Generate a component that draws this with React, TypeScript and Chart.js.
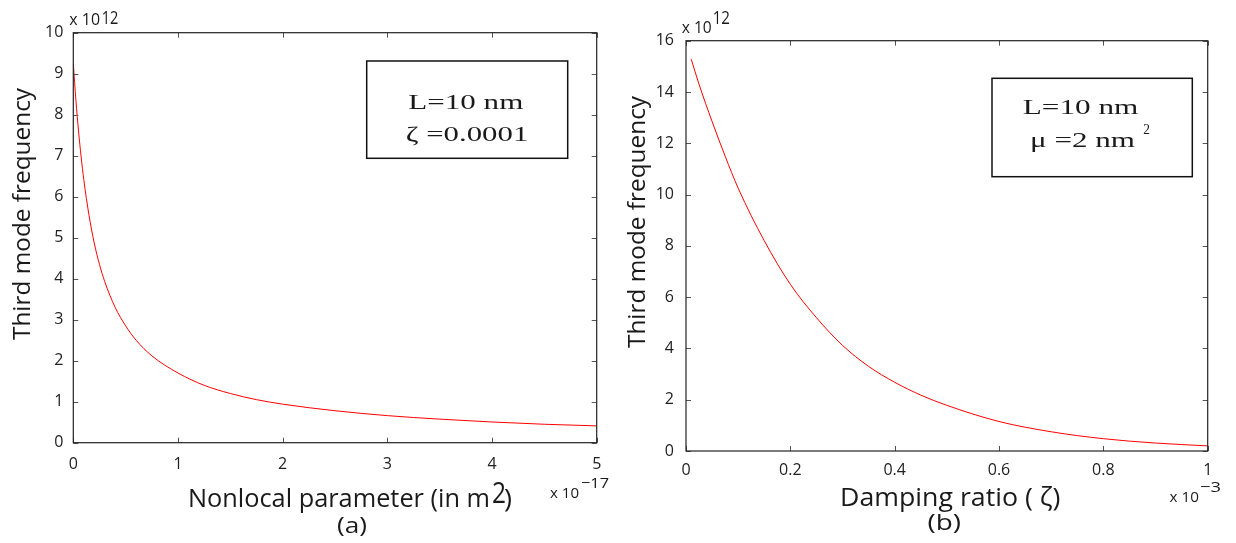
import React, { useEffect, useRef } from "react";
import { Chart, registerables } from "chart.js";
Chart.register(...registerables);

// ---- data ----
// panel (a): nonlocal parameter (x 1e-17 m^2) vs third mode frequency (x 1e12)
const nonlocalParam = [0, 0.025, 0.05, 0.075, 0.1, 0.15, 0.2, 0.25, 0.3, 0.4, 0.5, 0.6, 0.75, 1.0, 1.25, 1.5, 1.75, 2.0, 2.5, 3.0, 3.5, 4.0, 4.5, 5.0];
const freqVsNonlocal = [9.25, 8.35, 7.6, 6.97, 6.42, 5.55, 4.87, 4.35, 3.93, 3.3, 2.85, 2.5, 2.12, 1.7, 1.4, 1.2, 1.05, 0.94, 0.78, 0.66, 0.575, 0.505, 0.45, 0.41];
// panel (b): damping ratio (x 1e-3) vs third mode frequency (x 1e12)
const dampingRatio = [0.01, 0.025, 0.05, 0.075, 0.1, 0.15, 0.2, 0.25, 0.3, 0.35, 0.4, 0.45, 0.5, 0.6, 0.7, 0.8, 0.9, 1.0];
const freqVsDamping = [15.28, 14.3, 12.85, 11.5, 10.25, 8.2, 6.5, 5.2, 4.12, 3.3, 2.68, 2.18, 1.78, 1.15, 0.75, 0.48, 0.31, 0.2];

const xTickLabelsA = ["0", "1", "2", "3", "4", "5"];
const yTickLabelsA = ["0", "1", "2", "3", "4", "5", "6", "7", "8", "9", "10"];
const xTickLabelsB = ["0", "0.2", "0.4", "0.6", "0.8", "1"];
const yTickLabelsB = ["0", "2", "4", "6", "8", "10", "12", "14", "16"];

const yTitle = "Third mode frequency";
const xTitleA = "Nonlocal parameter (in m";
const xTitleB = "Damping ratio ( \u03b6)";

const SANS = "'Open Sans'";
const SERIF = "'Liberation Serif'";

type TextItem = { t: string; x: number; y: number; w: number; font: string; rot?: boolean };

function fitText(ctx: CanvasRenderingContext2D, it: TextItem) {
  ctx.save();
  ctx.font = it.font;
  const m = ctx.measureText(it.t).width || 1;
  const s = it.w / m;
  ctx.translate(it.x, it.y);
  if (it.rot) ctx.rotate(-Math.PI / 2);
  ctx.scale(s, 1);
  ctx.textAlign = "left";
  ctx.textBaseline = "alphabetic";
  ctx.fillStyle = "#1a1a1a";
  ctx.fillText(it.t, 0, 0);
  ctx.restore();
}

type Box = { x: number; y: number; w: number; h: number };

function decorPlugin(offset: number, texts: TextItem[], box: Box) {
  return {
    id: "decor" + offset,
    afterDraw(chart: any) {
      const ctx: CanvasRenderingContext2D = chart.ctx;
      const a = chart.chartArea;
      const xs = chart.scales.x;
      const ys = chart.scales.y;
      ctx.save();
      ctx.strokeStyle = "#555";
      ctx.lineWidth = 1;
      ctx.beginPath();
      xs.ticks.forEach((t: any) => {
        const p = Math.round(xs.getPixelForValue(t.value)) + 0.5;
        ctx.moveTo(p, a.bottom);
        ctx.lineTo(p, a.bottom - 5);
        ctx.moveTo(p, a.top);
        ctx.lineTo(p, a.top + 5);
      });
      ys.ticks.forEach((t: any) => {
        const p = Math.round(ys.getPixelForValue(t.value)) + 0.5;
        ctx.moveTo(a.left, p);
        ctx.lineTo(a.left + 5, p);
        ctx.moveTo(a.right, p);
        ctx.lineTo(a.right - 5, p);
      });
      ctx.stroke();
      ctx.strokeStyle = "#222";
      ctx.lineWidth = 1.2;
      ctx.strokeRect(a.left, a.top, a.right - a.left, a.bottom - a.top);
      ctx.translate(-offset, 0);
      ctx.lineWidth = 1.5;
      ctx.strokeStyle = "#111";
      ctx.strokeRect(box.x, box.y, box.w, box.h);
      texts.forEach((it) => fitText(ctx, it));
      ctx.restore();
    },
  };
}

type PanelSpec = {
  offset: number;
  xs: number[];
  ys: number[];
  xMin: number; xMax: number; xStep: number; xLabels: string[];
  yMin: number; yMax: number; yStep: number; yLabels: string[];
  padTop: number; padRight: number; yWidth: number; xHeight: number;
  xPad: number; yPad: number;
  texts: TextItem[];
  box: Box;
};

function Panel({ spec }: { spec: PanelSpec }) {
  const ref = useRef<HTMLCanvasElement | null>(null);
  useEffect(() => {
    if (!ref.current) return;
    const tickFont = { family: "Open Sans", size: 16 };
    const chart = new Chart(ref.current, {
      type: "line",
      data: {
        datasets: [
          {
            data: spec.xs.map((x, i) => ({ x, y: spec.ys[i] })),
            borderColor: "#ff0000",
            borderWidth: 1,
            pointRadius: 0,
            cubicInterpolationMode: "monotone",
            fill: false,
          } as any,
        ],
      },
      options: {
        animation: false,
        responsive: false,
        devicePixelRatio: 1,
        layout: { padding: { left: 0, top: spec.padTop, right: spec.padRight, bottom: 0 } },
        plugins: { legend: { display: false }, tooltip: { enabled: false } },
        scales: {
          x: {
            type: "linear",
            min: spec.xMin,
            max: spec.xMax,
            grid: { display: false, drawTicks: false },
            border: { display: false },
            ticks: {
              stepSize: spec.xStep,
              autoSkip: false,
              maxRotation: 0,
              padding: spec.xPad,
              font: tickFont,
              color: "#222",
              callback: (_v: any, i: number) => spec.xLabels[i],
            },
            afterFit: (s: any) => { s.height = spec.xHeight; },
          },
          y: {
            type: "linear",
            min: spec.yMin,
            max: spec.yMax,
            grid: { display: false, drawTicks: false },
            border: { display: false },
            ticks: {
              stepSize: spec.yStep,
              autoSkip: false,
              padding: spec.yPad,
              font: tickFont,
              color: "#222",
              callback: (_v: any, i: number) => spec.yLabels[i],
            },
            afterFit: (s: any) => { s.width = spec.yWidth; },
          },
        },
      } as any,
      plugins: [decorPlugin(spec.offset, spec.texts, spec.box)],
    });
    return () => chart.destroy();
  }, [spec]);
  return (
    <canvas
      ref={ref}
      width={618}
      height={543}
      style={{ position: "absolute", left: spec.offset, top: 0, width: 618, height: 543 }}
    />
  );
}

const specA: PanelSpec = {
  offset: 0,
  xs: nonlocalParam,
  ys: freqVsNonlocal,
  xMin: 0, xMax: 5, xStep: 1, xLabels: xTickLabelsA,
  yMin: 0, yMax: 10, yStep: 1, yLabels: yTickLabelsA,
  padTop: 32.7, padRight: 21.3, yWidth: 73.3, xHeight: 100.3,
  xPad: 12, yPad: 10,
  box: { x: 366.7, y: 61, w: 201, h: 97.3 },
  texts: [
    { t: yTitle, x: 30, y: 340, w: 252, font: `24px ${SANS}`, rot: true },
    { t: "x 10", x: 69.3, y: 25, w: 30.7, font: `16px ${SANS}` },
    { t: "12", x: 101.7, y: 23.5, w: 16.6, font: `18px ${SANS}` },
    { t: xTitleA, x: 188, y: 507, w: 302, font: `25px ${SANS}` },
    { t: "2", x: 492, y: 503, w: 14, font: `30px ${SANS}` },
    { t: ")", x: 504, y: 507, w: 8, font: `25px ${SANS}` },
    { t: "(a)", x: 337, y: 533, w: 30, font: `22px ${SANS}` },
    { t: "x 10", x: 550, y: 498, w: 29, font: `14px ${SANS}` },
    { t: "\u221217", x: 581, y: 488, w: 28, font: `15px ${SANS}` },
    { t: "L=10 nm", x: 408.3, y: 109.3, w: 115, font: `22px ${SERIF}` },
    { t: "\u03b6 =0.0001", x: 405.7, y: 141, w: 122.6, font: `22px ${SERIF}` },
  ],
};

const specB: PanelSpec = {
  offset: 618,
  xs: dampingRatio,
  ys: freqVsDamping,
  xMin: 0, xMax: 1, xStep: 0.2, xLabels: xTickLabelsB,
  yMin: 0, yMax: 16, yStep: 2, yLabels: yTickLabelsB,
  padTop: 40.7, padRight: 28.3, yWidth: 68, xHeight: 92,
  xPad: 10, yPad: 12,
  box: { x: 992, y: 78.3, w: 200.3, h: 98.4 },
  texts: [
    { t: yTitle, x: 645, y: 348, w: 252, font: `24px ${SANS}`, rot: true },
    { t: "x 10", x: 681.7, y: 33.3, w: 30, font: `16px ${SANS}` },
    { t: "12", x: 712.7, y: 23.5, w: 17.3, font: `18px ${SANS}` },
    { t: xTitleB, x: 840, y: 506, w: 220.5, font: `25px ${SANS}` },
    { t: "(b)", x: 927.5, y: 530, w: 33.5, font: `22px ${SANS}` },
    { t: "x 10", x: 1169.6, y: 501.7, w: 29.4, font: `14px ${SANS}` },
    { t: "\u22123", x: 1200, y: 491.7, w: 21, font: `15px ${SANS}` },
    { t: "L=10 nm", x: 1022.7, y: 114, w: 115.6, font: `22px ${SERIF}` },
    { t: "\u03bc =2 nm", x: 1030, y: 147.3, w: 105, font: `22px ${SERIF}` },
    { t: "2", x: 1143.3, y: 134.3, w: 6.7, font: `14px ${SERIF}` },
  ],
};

export default function App() {
  return (
    <div style={{ position: "absolute", left: 0, top: 0, width: 1236, height: 543, background: "#fff" }}>
      <Panel spec={specA} />
      <Panel spec={specB} />
    </div>
  );
}
